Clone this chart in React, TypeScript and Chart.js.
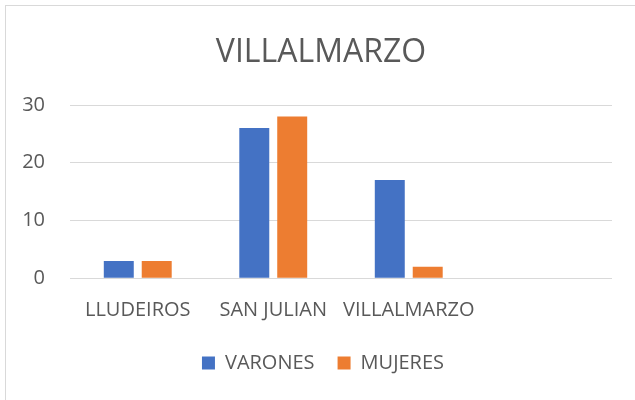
import React, { useEffect, useRef } from "react";
import { Chart, registerables } from "chart.js";

Chart.register(...registerables);

const categories = ["LLUDEIROS", "SAN JULIAN", "VILLALMARZO", ""];
const varones = [3, 26, 17, null];
const mujeres = [3, 28, 2, null];
const yTicks = [0, 10, 20, 30];

const FONT = "'Open Sans', sans-serif";
const TEXT = "#595959";

const shiftBoxes = {
  id: "shiftBoxes",
  afterLayout(chart: any) {
    const t = chart.titleBlock;
    if (t) {
      t.left += 15;
      t.right += 15;
    }
    const l = chart.legend;
    if (l) {
      l.left += 17;
      l.right += 17;
    }
  },
};

export default function App() {
  const ref = useRef<HTMLCanvasElement | null>(null);

  useEffect(() => {
    if (!ref.current) return;
    const chart = new Chart(ref.current, {
      type: "bar",
      data: {
        labels: categories,
        datasets: [
          {
            label: "VARONES",
            data: varones,
            backgroundColor: "#4472C4",
            categoryPercentage: 0.56,
            barPercentage: 0.79,
          },
          {
            label: "MUJERES",
            data: mujeres,
            backgroundColor: "#ED7D31",
            categoryPercentage: 0.56,
            barPercentage: 0.79,
          },
        ],
      },
      plugins: [shiftBoxes],
      options: {
        responsive: false,
        animation: false,
        layout: { padding: { left: 0, right: 23, top: 0, bottom: 17 } },
        plugins: {
          title: {
            display: true,
            text: "VILLALMARZO",
            color: TEXT,
            font: { family: FONT, size: 32, weight: "normal" },
            padding: { top: 33.5, bottom: 33.1 },
          },
          legend: {
            position: "bottom",
            labels: {
              color: TEXT,
              font: { family: FONT, size: 20 },
              boxWidth: 13,
              boxHeight: 13,
              padding: 23,
            },
          },
          tooltip: { enabled: false },
        },
        scales: {
          x: {
            grid: { display: false },
            border: { display: false },
            ticks: {
              color: TEXT,
              font: { family: FONT, size: 20 },
              padding: 12,
              maxRotation: 0,
              autoSkip: false,
            },
            afterFit: (s: any) => {
              s.height = 51.7;
            },
          },
          y: {
            min: 0,
            max: 30,
            afterBuildTicks: (s: any) => {
              s.ticks = yTicks.map((v) => ({ value: v }));
            },
            grid: { color: "#d9d9d9", lineWidth: 1, drawTicks: false },
            border: { display: false },
            ticks: {
              color: TEXT,
              font: { family: FONT, size: 20 },
              padding: 25,
            },
            afterFit: (s: any) => {
              s.width = 70;
            },
          },
        },
      },
    });
    return () => chart.destroy();
  }, []);

  return (
    <div
      style={{
        position: "fixed",
        left: 0,
        top: 0,
        width: 635,
        height: 400,
        background: "#fff",
        overflow: "hidden",
      }}
    >
      <div
        style={{
          position: "absolute",
          left: 5,
          top: 5,
          width: 700,
          height: 500,
          border: "1.5px solid #d9d9d9",
          boxSizing: "border-box",
        }}
      />
      <canvas
        ref={ref}
        width={635}
        height={400}
        style={{ position: "absolute", left: 0, top: 0 }}
      />
    </div>
  );
}
